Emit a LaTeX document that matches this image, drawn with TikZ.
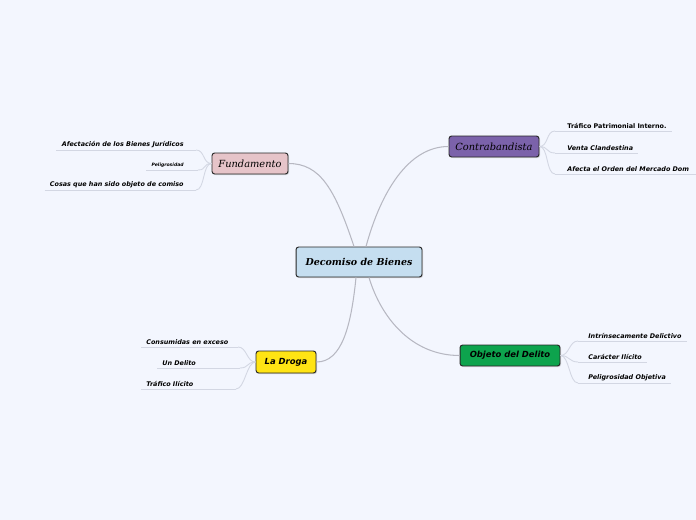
\documentclass[tikz,border=0pt]{standalone}
\usepackage{fontspec}
\setmainfont{DejaVu Sans}
\newfontfamily\topicserif{DejaVu Serif}
\usetikzlibrary{shadows}
\definecolor{paper}{HTML}{F3F6FE}
\definecolor{centreblue}{HTML}{C5DEF0}
\definecolor{fundpink}{HTML}{E6C4C9}
\definecolor{contrapurple}{HTML}{7B62AA}
\definecolor{drogayellow}{HTML}{FFE414}
\definecolor{objetogreen}{HTML}{0DA34D}
\definecolor{branchgrey}{HTML}{B7B8C2}
\definecolor{twiggrey}{HTML}{D3D7E3}
\begin{document}
\begin{tikzpicture}[x=0.02cm, y=-0.02cm,
  topic/.style={draw=black!85, line width=0.55pt, rounded corners=1.5pt, inner sep=0pt, minimum height=0.42cm,
    drop shadow={shadow xshift=0.6pt, shadow yshift=-0.6pt, opacity=0.3}},
  serifhead/.style={font=\topicserif\fontsize{5.6}{6.5}\selectfont\itshape},
  sanshead/.style={font=\fontsize{4.8}{5.5}\selectfont\bfseries\itshape},
  leaf/.style={inner xsep=0.1cm, inner ysep=0.04cm, font=\fontsize{3.65}{4.2}\selectfont\bfseries\itshape},
  branch/.style={draw=branchgrey, line width=0.6pt},
  twig/.style={draw=twiggrey, line width=0.5pt}]
\fill[paper] (0,0) rectangle (696,520);
\useasboundingbox (0,0) rectangle (696,520);
% main topics
\node[topic, fill=centreblue, minimum width=2.52cm, minimum height=0.6cm,
  font=\topicserif\fontsize{5.4}{6.5}\selectfont\bfseries\itshape] (centre) at (359,262) {Decomiso de Bienes};
\node[topic, serifhead, fill=fundpink, minimum width=1.52cm] (fund) at (250,163.5) {Fundamento};
\node[topic, serifhead, fill=contrapurple, minimum width=1.8cm] (contra) at (494,146.5) {Contrabandista};
\node[topic, sanshead, fill=drogayellow, minimum width=1.2cm, minimum height=0.44cm] (droga) at (286,362) {La Droga};
\node[topic, sanshead, fill=objetogreen, minimum width=2cm] (objeto) at (510,355.5) {Objeto del Delito};
\draw[branch] (fund.east) .. controls +(32,0) and +(-19,-57) .. ([xshift=-0.1cm]centre.north);
\draw[branch] (contra.west) .. controls +(-40,0) and +(15,-55) .. ([xshift=0.14cm]centre.north);
\draw[branch] (droga.east) .. controls +(25,0) and +(-5,50) .. ([xshift=-0.06cm]centre.south);
\draw[branch] (objeto.west) .. controls +(-48,0) and +(12,40) .. ([xshift=0.2cm]centre.south);
% Fundamento
\coordinate (fj1) at (196,150);
\coordinate (fj2) at (198,170);
\coordinate (fj3) at (196,190);
\node[leaf, anchor=south east] (f1) at (189,150) {Afectación de los Bienes Jurídicos};
\node[leaf, anchor=south east, font=\fontsize{2.6}{3}\selectfont\bfseries\itshape] (f2) at (189,170) {Peligrosidad};
\node[leaf, anchor=south east] (f3) at (189,190) {Cosas que han sido objeto de comiso};
\foreach \n in {1,2,3} {
  \draw[twig] (fund.west) .. controls +(-9,0) and +(9,0) .. (fj\n);
  \draw[twig] (f\n.south west) -- (fj\n);
}
% Contrabandista
\coordinate (cj1) at (555,131);
\coordinate (cj2) at (555,153);
\coordinate (cj3) at (555,174);
\coordinate (cedge) at (696,174);
\node[leaf, anchor=south west, font=\fontsize{3.65}{4.2}\selectfont\bfseries] (c1) at (562,131) {Tráfico Patrimonial Interno.};
\node[leaf, anchor=south west] (c2) at (562,153) {Venta Clandestina};
\node[leaf, anchor=south west] (c3) at (562,174) {Afecta el Orden del Mercado Dom};
\foreach \n in {1,2,3} {
  \draw[twig] (contra.east) .. controls +(9,0) and +(-9,0) .. (cj\n);
}
\draw[twig] (cj1) -- (c1.south east);
\draw[twig] (cj2) -- (c2.south east);
\draw[twig] (cj3) -- (cedge);
% La Droga
\coordinate (dj1) at (238,347);
\coordinate (dj2) at (240,368);
\coordinate (dj3) at (236,389);
\node[leaf, anchor=south west] (d1) at (141,347) {Consumidas en exceso};
\node[leaf, anchor=south west] (d2) at (157,368) {Un Delito};
\node[leaf, anchor=south west] (d3) at (141,389) {Tráfico Ilícito};
\foreach \n in {1,2,3} {
  \draw[twig] (droga.west) .. controls +(-9,0) and +(9,0) .. (dj\n);
  \draw[twig] (d\n.south west) -- (dj\n);
}
% Objeto del Delito
\coordinate (oj1) at (578,341);
\coordinate (oj2) at (578,362);
\coordinate (oj3) at (578,383);
\node[leaf, anchor=south west] (o1) at (583,341) {Intrínsecamente Delictivo};
\node[leaf, anchor=south west] (o2) at (583,362) {Carácter Ilícito};
\node[leaf, anchor=south west] (o3) at (583,383) {Peligrosidad Objetiva};
\foreach \n in {1,2,3} {
  \draw[twig] (objeto.east) .. controls +(9,0) and +(-9,0) .. (oj\n);
  \draw[twig] (oj\n) -- (o\n.south east);
}
\end{tikzpicture}
\end{document}
